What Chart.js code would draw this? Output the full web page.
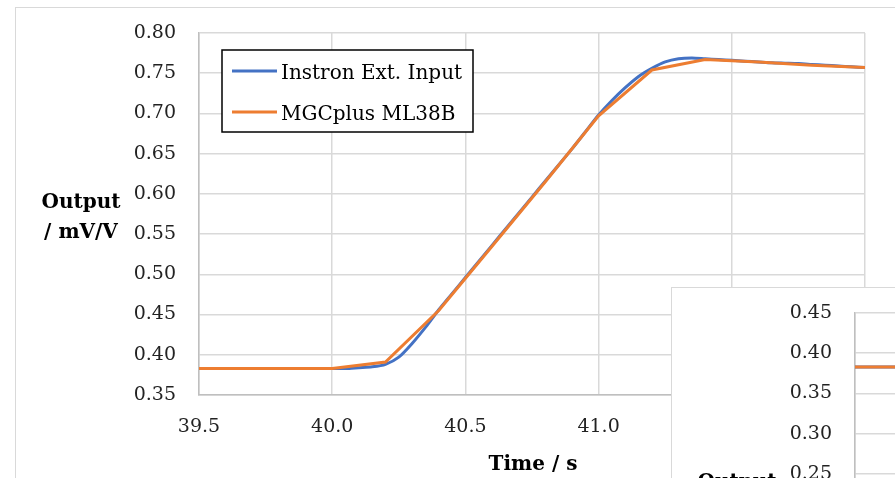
<!DOCTYPE html>
<html>
<head>
<meta charset="utf-8">
<script src="https://cdn.jsdelivr.net/npm/chart.js@4.4.1/dist/chart.umd.min.js"></script>
<style>
  body { margin: 0; background: #fff; width: 895px; height: 478px; overflow: hidden; position: relative; }
  #frame { position: absolute; left: 15px; top: 7px; width: 1000px; height: 1000px; border: 1.5px solid #d9d9d9; pointer-events: none; }
  #main { position: absolute; left: 0; top: 0; }
  #insetBox { position: absolute; left: 671px; top: 287px; width: 400px; height: 400px; background: #fff; border: 1.5px solid #d9d9d9; overflow: hidden; }
  #inset { position: absolute; left: -16.5px; top: -8.5px; }
</style>
</head>
<body>
<canvas id="main" width="895" height="478"></canvas>
<div id="frame"></div>
<div id="insetBox"><canvas id="inset" width="895" height="478"></canvas></div>
<script>
// series names and axis titles
const seriesNames = ['Instron Ext. Input', 'MGCplus ML38B'];
const yTitle = ['Output', '/ mV/V'];
const xTitle = 'Time / s';

// Instron extensometer input, read every 0.05 s
const blueTime = [39.50, 39.55, 39.60, 39.65, 39.70, 39.75, 39.80, 39.85, 39.90, 39.95,
  40.00, 40.05, 40.10, 40.15, 40.20, 40.25, 40.30, 40.35, 40.40, 40.45,
  40.50, 40.55, 40.60, 40.65, 40.70, 40.75, 40.80, 40.85, 40.90, 40.95,
  41.00, 41.05, 41.10, 41.15, 41.20, 41.25, 41.30, 41.35, 41.40, 41.45,
  41.50, 41.55, 41.60, 41.65, 41.70, 41.75, 41.80, 41.85, 41.90, 41.95, 42.00];
const blueOutput = [0.383, 0.383, 0.383, 0.383, 0.383, 0.383, 0.383, 0.383, 0.383, 0.383,
  0.383, 0.383, 0.384, 0.385, 0.388, 0.397, 0.414, 0.434, 0.456, 0.476,
  0.496, 0.516, 0.536, 0.556, 0.576, 0.596, 0.616, 0.636, 0.656, 0.677,
  0.698, 0.716, 0.732, 0.746, 0.756, 0.764, 0.768, 0.769, 0.768, 0.767,
  0.766, 0.765, 0.764, 0.763, 0.7625, 0.762, 0.761, 0.760, 0.759, 0.758, 0.757];

// MGCplus ML38B amplifier, sampled every 0.2 s
const orangeTime = [39.4, 39.6, 39.8, 40.0, 40.2, 40.4, 40.6, 40.8, 41.0, 41.2, 41.4, 41.6, 41.8, 42.0];
const orangeOutput = [0.383, 0.383, 0.383, 0.383, 0.391, 0.455, 0.535, 0.615, 0.697, 0.754, 0.767, 0.764, 0.760, 0.757];

const colors = ['#4472C4', '#ED7D31'];

function pts(xs, ys) {
  return xs.map((x, i) => ({ x: x, y: ys[i] }));
}

const decor = {
  id: 'decor',
  afterDraw(chart, args, opts) {
    const ctx = chart.ctx, a = chart.chartArea;
    ctx.save();
    ctx.fillStyle = '#000';
    ctx.font = 'bold 20px "DejaVu Serif"';
    ctx.textAlign = 'center';
    ctx.textBaseline = 'alphabetic';
    ctx.fillText(yTitle[0], 81, a.top + 175);
    ctx.fillText(yTitle[1], 81, a.top + 205);
    ctx.fillText(xTitle, (a.left + a.right) / 2 + 1, a.bottom + 75);

    if (opts.legend) {
      const lx = a.left + 23, ly = a.top + 17;
      ctx.fillStyle = '#fff';
      ctx.fillRect(lx, ly, 251, 82);
      ctx.strokeStyle = '#000';
      ctx.lineWidth = 1.5;
      ctx.strokeRect(lx, ly, 251, 82);
      ctx.font = '20px "DejaVu Serif"';
      ctx.textAlign = 'left';
      chart.data.datasets.forEach((ds, i) => {
        const y = ly + 21 + i * 41;
        ctx.strokeStyle = ds.borderColor;
        ctx.lineWidth = 3;
        ctx.beginPath();
        ctx.moveTo(lx + 10, y);
        ctx.lineTo(lx + 55, y);
        ctx.stroke();
        ctx.fillStyle = '#000';
        ctx.fillText(ds.label, lx + 59, y + 8);
      });
    }
    ctx.restore();
  }
};

function makeChart(id, yMin, yMax, legend) {
  return new Chart(document.getElementById(id), {
    type: 'line',
    data: {
      datasets: [
        { label: seriesNames[0], data: pts(blueTime, blueOutput), borderColor: colors[0], order: 1,
          borderWidth: 3, pointRadius: 0, tension: 0.25, fill: false },
        { label: seriesNames[1], data: pts(orangeTime, orangeOutput), borderColor: colors[1], order: 0,
          borderWidth: 3, pointRadius: 0, tension: 0, fill: false }
      ]
    },
    options: {
      responsive: false,
      animation: false,
      devicePixelRatio: 1,
      parsing: false,
      layout: { padding: { left: 0, top: 33, right: 30, bottom: 0 } },
      plugins: { legend: { display: false }, tooltip: { enabled: false }, decor: { legend: legend } },
      scales: {
        x: {
          type: 'linear', min: 39.5, max: 42.0,
          afterFit: s => { s.height = 83; s.paddingLeft = 0; s.paddingRight = 0; },
          grid: { color: '#d9d9d9', lineWidth: 1.5, drawTicks: false },
          border: { color: '#bfbfbf', width: 1.5 },
          ticks: { stepSize: 0.5, padding: 21, color: '#222', font: { family: 'DejaVu Serif', size: 19 },
            callback: v => v.toFixed(1) }
        },
        y: {
          min: yMin, max: yMax,
          afterFit: s => { s.width = 199; s.paddingTop = 0; s.paddingBottom = 0; },
          grid: { color: '#d9d9d9', lineWidth: 1.5, drawTicks: false },
          border: { color: '#bfbfbf', width: 1.5 },
          ticks: { stepSize: 0.05, padding: 23, color: '#222', font: { family: 'DejaVu Serif', size: 19 },
            callback: v => v.toFixed(2) }
        }
      }
    },
    plugins: [decor]
  });
}

makeChart('main', 0.35, 0.80, true);
makeChart('inset', 0.00, 0.45, false);
</script>
</body>
</html>
